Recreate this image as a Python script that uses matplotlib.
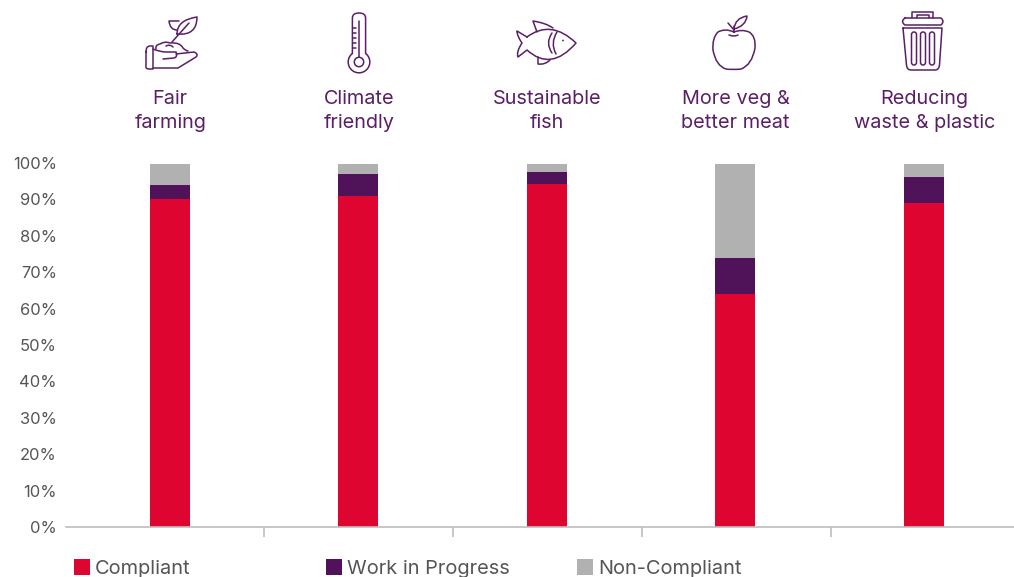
import matplotlib
matplotlib.use("Agg")
import matplotlib.pyplot as plt
from matplotlib.path import Path
from matplotlib.patches import PathPatch, Circle, Rectangle, FancyBboxPatch

W, H = 1014, 577
categories = ["Fair\nfarming", "Climate\nfriendly", "Sustainable\nfish", "More veg &\nbetter meat", "Reducing\nwaste & plastic"]
compliant = [90, 91, 94.2, 64, 89]
in_progress = [4, 6, 3.2, 10, 7.2]
non_compliant = [5.6, 2.6, 2.2, 25.6, 3.4]
series_names = ["Compliant", "Work in Progress", "Non-Compliant"]
colors = ["#DE0530", "#501359", "#B1B1B1"]
yticks = list(range(0, 101, 10))
PURPLE = "#5A1F66"
GREY = "#555555"
plt.rcParams['font.family'] = ['Inter', 'DejaVu Sans']

fig = plt.figure(figsize=(W/100, H/100), dpi=100)
def pxbox(x0, y0, x1, y1):
    return [x0/W, 1-y1/H, (x1-x0)/W, (y1-y0)/H]

ax = fig.add_axes(pxbox(66, 163, 1014, 527))
step = 188.5
c0 = 169.7
ax.set_xlim((66-c0)/step, (1014-c0)/step)
ax.set_ylim(0, 100)
pos = list(range(len(categories)))
bottom = [0]*5
for vals, c, n in zip([compliant, in_progress, non_compliant], colors, series_names):
    ax.bar(pos, vals, width=40/step, bottom=bottom, color=c, linewidth=0)
    bottom = [b+v for b, v in zip(bottom, vals)]
for s in ["top", "right", "left"]:
    ax.spines[s].set_visible(False)
ax.spines["bottom"].set_color("#BDBDBD")
ax.spines["bottom"].set_linewidth(1.2)
ax.set_yticks(yticks)
ax.set_yticklabels([f"{v}%" for v in yticks], fontsize=11.9, color=GREY)
ax.tick_params(axis="y", length=0, pad=6.5)
ax.set_xticks([0.5 + i*189/step for i in range(4)])
ax.set_xticklabels([])
ax.tick_params(axis="x", length=7, width=1.2, color="#BDBDBD")

# overlay in pixel coordinates for the header and legend
ov = fig.add_axes([0, 0, 1, 1], zorder=5)
ov.set_xlim(0, W); ov.set_ylim(H, 0); ov.axis("off"); ov.patch.set_alpha(0)

centers = [c0 + step*i for i in pos]
for cx, lab in zip(centers, categories):
    a, b = lab.split("\n")
    ov.text(cx+0.5, 99.5, a, ha="center", va="center", fontsize=14.3, color=PURPLE)
    ov.text(cx+0.5, 122.5, b, ha="center", va="center", fontsize=14.3, color=PURPLE)

# legend
for x, c, n in zip([74, 326, 577], colors, series_names):
    ov.add_patch(Rectangle((x, 559), 16, 16, color=c, lw=0))
    ov.text(x+21, 569, n, ha="left", va="center", fontsize=14.4, color=GREY)

lw = 1.1
def curve(pts):
    verts, codes = [pts[0]], [Path.MOVETO]
    i = 1
    while i < len(pts):
        if i+1 < len(pts) and isinstance(pts[i], list):
            verts += [tuple(pts[i]), pts[i+1]]; codes += [Path.CURVE3]*2; i += 2
        else:
            verts.append(pts[i]); codes.append(Path.LINETO); i += 1
    ov.add_patch(PathPatch(Path(verts, codes), fill=False, ec=PURPLE, lw=lw, capstyle="round", joinstyle="round"))

# plant and hand
curve([(177,34), [177,20], (197,17), [197,36], (177,34)])
curve([(172,42), (189,23)])
curve([(177,30), [170,30], (169,21), (179,21)])
curve([(146,52), [146,46], (150,46), (153,46), (153,69), (149,69), [145,69], (146,65), (146,52)])
curve([(153,49), [160,52], (166,52), (176,52), [178,57], (174,58), (163,59)])
curve([(176,54), (194,52), [199,54], (196,57), (178,68), (153,68)])
curve([(156,49), [155,45], (160,44), [165,41], (170,43), [180,42], (183,48), [186,51], (188,51)])
curve([(166,46), [170,44], (173,47)])
# thermometer
curve([(352.4,53.5), (352.4,18), [352.4,13], (359,13), [365.6,13], (365.6,18), (365.6,53.5)])
arc = Path.arc(-52, 232)
ov.add_patch(PathPatch(Path(arc.vertices*10.8 + (359, 62), arc.codes), fill=False, ec=PURPLE, lw=lw))
ov.add_patch(Circle((359,62), 4.7, fill=False, ec=PURPLE, lw=lw))
curve([(359,21), (359,57)])
for y_ in (28,33,38,43,48):
    curve([(352.6,y_), (355.5,y_)])
# fish
curve([(527,37), [551,19], (576,43), [551,72], (527,50), (518,57), [516,52], (522,43), [517,36], (517,31), (527,37)])
curve([(537,32), (533,21), [546,23], (553,28)])
curve([(538,57), (538,64), [545,65], (550,60)])
curve([(552,33), [545,43], (552,53)])
curve([(557,32), [550,43], (556,54)])
ov.add_patch(Circle((563,40.5), 0.9, color=PURPLE, lw=0))
# apple
curve([(734,32), [725,28], (718,32), [712,38], (713,50), [716,66], (726,69), [733,70], (741,69), [752,65], (755,48), [756,36], (749,32), [742,29], (734,32)])
curve([(734,32), (734,26)])
curve([(728,23), (734,30)])
curve([(734,29), [735,18], (747,16), [746,26], (734,29)])
curve([(729,35), [734,37], (738,35)])
# bin
curve([(905,18), (941,18), [945,21.5], (941,25), (905,25), [900,21.5], (905,18)])
curve([(912,18), (912,12), (933,12), (933,18)])
curve([(917,18), (917,15), (929,15), (929,18)])
curve([(903,28), (906.5,65), [907,70], (911,70), (935,70), [939,70], (939.5,65), (942,28), (903,28)])
for cx_ in (914, 923, 932):
    ov.add_patch(FancyBboxPatch((cx_-2.5, 32), 5, 33, boxstyle="round,pad=0,rounding_size=2.5", fill=False, ec=PURPLE, lw=lw))

fig.savefig("out.png", dpi=100)
